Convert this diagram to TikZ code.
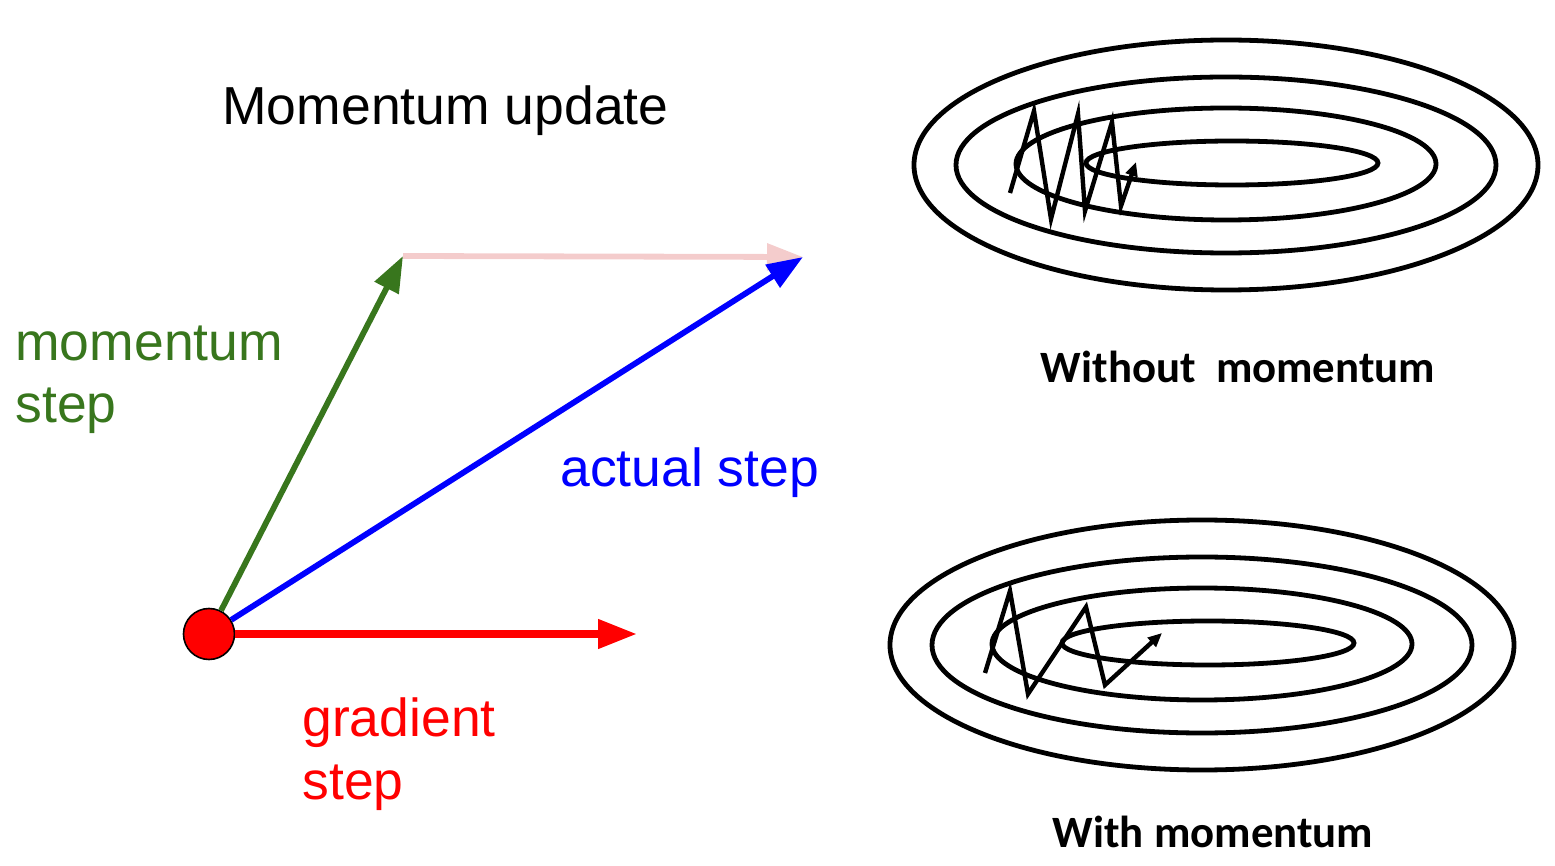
\documentclass[tikz,border=0pt]{standalone}
\usepackage{fontspec}
\setmainfont{Liberation Sans}
\newfontfamily\capfont{Carlito}
\usetikzlibrary{arrows.meta}
\definecolor{momgreen}{RGB}{56,118,29}
\definecolor{mompink}{RGB}{244,204,204}

\begin{document}
\begin{tikzpicture}[x=0.5pt,y=-0.5pt]
   \useasboundingbox (0,0) rectangle (1555,866);
   \tikzstyle{vec}=[line width=2.9pt, -{Triangle[length=18pt,width=13pt]}]
   \tikzstyle{lbl}=[anchor=base west, inner sep=0pt, align=left, font=\fontsize{26.75}{31.5}\selectfont]
   \tikzstyle{contour}=[line width=2.4pt]
   \tikzstyle{zig}=[line width=2.2pt, -{Triangle[length=7pt,width=6pt]}]
   \tikzstyle{caption}=[anchor=base, inner sep=0pt, font=\capfont\bfseries\fontsize{22.4}{26}\selectfont]
   \node[lbl] (title) at (222,125) {Momentum update};
   \node[circle, fill=red, draw=black, line width=0.8pt, minimum size=25.5pt, inner sep=0pt] (dot) at (209,634) {};
   \coordinate (gradtip) at (637,634);
   \coordinate (momtip) at (403,256);
   \coordinate (acttip) at (803,257);
   \path[vec, draw=mompink, fill=mompink] (momtip) -- (acttip);
   \path[vec, draw=momgreen, fill=momgreen] (dot) -- (momtip);
   \path[vec, draw=blue, fill=blue] (dot) -- (acttip);
   \path[vec, draw=red, fill=red, line width=3.8pt, -{Triangle[length=19.5pt,width=14pt]}] (dot) -- (gradtip);
   \node[lbl, text=momgreen] (momlabel) at (15,423) {momentum\\step};
   \node[lbl, text=blue] (actlabel) at (560,487) {actual step};
   \node[lbl, text=red] (gradlabel) at (302,799) {gradient\\step};
   \foreach \cx/\cy in {1226/165,1202/645}
     \foreach \ox/\oy/\rx/\ry in {0/0/312/125, 0/0/270/88, 0/-1/210/56, 6/-2/146/22}
       \draw[contour] (\cx+\ox,\cy+\oy) ellipse [x radius=\rx, y radius=\ry];
   \draw[zig] (1010,193) -- (1034,111) -- (1051,219) -- (1078,114) -- (1085,211) -- (1112,122) -- (1121,206) -- (1136,162);
   \draw[zig] (985,673) -- (1010,591) -- (1028,694) -- (1086,607) -- (1105,685) -- (1162,633);
   \node[caption] (nomom) at (1238,383) {Without\ \ momentum};
   \node[caption] (withmom) at (1213,847) {With momentum};
\end{tikzpicture}
\end{document}
